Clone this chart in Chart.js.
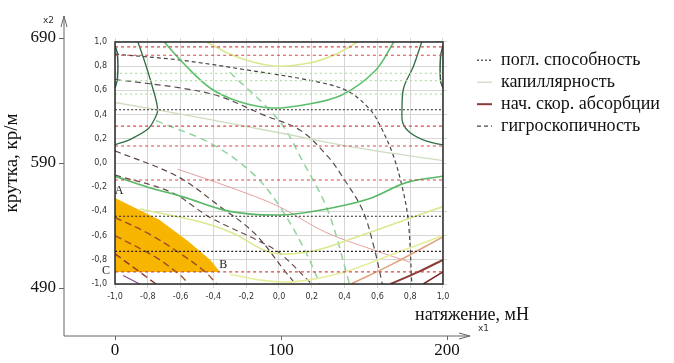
<!DOCTYPE html>
<html>
<head>
<meta charset="utf-8">
<style>
  html, body { margin: 0; padding: 0; background: #fff; }
  #wrap { width: 674px; height: 363px; }
</style>
</head>
<body>
<div id="wrap"><canvas id="chart" width="674" height="363"></canvas></div>
<script src="https://cdn.jsdelivr.net/npm/chart.js"></script>
<script>
// coded factor axes (-1..1)
const codedTicks = [-1, -0.8, -0.6, -0.4, -0.2, 0, 0.2, 0.4, 0.6, 0.8, 1];
const xSpan = [-1, 1];
// natural units
const tensionTicks = [0, 100, 200];
const twistTicks = [490, 590, 690];

// погл. способность: horizontal dotted levels
const absorbDark = [0.44, -0.44, -0.73];
const absorbRed = [0.96, 0.89, 0.305, 0.14, -0.14, -0.9];
const absorbLight = [0.74, 0.68, 0.57];

// капиллярность
const capPale = [[-1, 0.5], [-0.5, 0.38], [0, 0.25], [0.5, 0.12], [1, 0.02]];
const capLeft = [[-0.86, 1], [-0.81, 0.8], [-0.77, 0.62], [-0.74, 0.44], [-0.76, 0.36], [-0.8, 0.28], [-0.9, 0.2], [-1, 0.15]];
const capRight = [[0.87, 1], [0.82, 0.8], [0.76, 0.62], [0.75, 0.44], [0.755, 0.33], [0.8, 0.25], [0.9, 0.18], [1, 0.15]];
const capLeftEdge = [[-1, 0.97], [-0.985, 0.9], [-0.985, 0.7], [-1, 0.62]];
const capRightEdge = [[1, 0.97], [0.985, 0.88], [0.985, 0.68], [1, 0.62]];
const capTopU = [[-0.7, 1], [-0.58, 0.82], [-0.42, 0.62], [-0.25, 0.51], [-0.05, 0.455], [0.15, 0.48], [0.38, 0.56], [0.585, 0.76], [0.7, 1]];
const capLowU = [[-1, -0.11], [-0.8, -0.2], [-0.585, -0.28], [-0.3, -0.4], [0, -0.43], [0.25, -0.39], [0.54, -0.3], [0.78, -0.16], [1, -0.11]];
const capYellowTop = [[-0.44, 1], [-0.3, 0.9], [-0.15, 0.83], [0, 0.8], [0.2, 0.83], [0.35, 0.9], [0.48, 1]];
const capYellowMid = [[-0.85, -0.38], [-0.5, -0.48], [-0.28, -0.58], [-0.05, -0.74], [0.2, -0.73], [0.5, -0.6], [0.75, -0.48], [1, -0.36]];
const capYellowLow = [[-0.3, -0.92], [-0.1, -0.97], [0.1, -0.98], [0.4, -0.9], [0.7, -0.75], [1, -0.6]];

// нач. скор. абсорбции
const rateBrown = [[0.68, -1], [0.85, -0.9], [1, -0.8]];
const rateOrange = [[0.44, -1], [0.7, -0.83], [1, -0.61]];
const rateDark = [[0.88, -1], [1, -0.9]];
const ratePink = [[-0.62, -0.05], [-0.3, -0.2], [0, -0.36], [0.28, -0.57], [0.58, -0.72], [0.8, -0.82]];
const rateIn1 = [[-1, -0.45], [-0.8, -0.58], [-0.6, -0.75], [-0.45, -0.9], [-0.38, -1]];
const rateIn2 = [[-1, -0.6], [-0.75, -0.78], [-0.6, -0.93], [-0.55, -1]];
const rateIn3 = [[-1, -0.75], [-0.85, -0.9], [-0.75, -1]];
const ratePurple = [[-0.95, -0.93], [-0.85, -1]];

// гигроскопичность
const hygro1 = [[-1, 0.9], [-0.6, 0.85], [-0.2, 0.77], [0.2, 0.68], [0.41, 0.6], [0.55, 0.45], [0.62, 0.3], [0.7, 0.05], [0.76, -0.25], [0.79, -0.5], [0.81, -1]];
const hygro2 = [[-1, 0.69], [-0.6, 0.62], [-0.36, 0.55], [-0.1, 0.4], [0.13, 0.27], [0.3, 0.05], [0.39, -0.12], [0.51, -0.39], [0.58, -0.7], [0.63, -1]];
const hygro3 = [[-1, 0.1], [-0.62, -0.11], [-0.36, -0.36], [-0.15, -0.58], [0.04, -0.9], [0.1, -1]];
const hygro4 = [[-1, -0.1], [-0.66, -0.24], [-0.42, -0.45], [-0.13, -0.64], [0, -0.74], [0.2, -1]];
const hygroGreen1 = [[-0.75, 0.35], [-0.4, 0.15], [-0.15, -0.1], [0, -0.35], [0.15, -0.7], [0.25, -1]];
const hygroGreen2 = [[-0.3, 0.75], [0, 0.35], [0.15, 0], [0.3, -0.4], [0.43, -1]];

// shaded region A-B-C
const regionABC = [[-1, -0.29], [-0.73, -0.47], [-0.56, -0.64], [-0.42, -0.8], [-0.36, -0.9], [-1, -0.9]];
const pointLabels = [['A', -0.975, -0.23], ['B', -0.34, -0.845], ['C', -1.055, -0.893]];

const clipInner = {left: 0, top: -4, right: -4, bottom: -4};
const datasets = [];
function curve(pts, style) {
  datasets.push(Object.assign({
    label: '', data: pts.map(([x, y]) => ({x, y})), pointRadius: 0, borderWidth: 1.2,
    tension: 0.35, fill: false, clip: clipInner, order: 0, inLegend: false
  }, style));
}

datasets.push({
  label: 'region', data: regionABC.map(([x, y]) => ({x, y})), pointRadius: 0, borderWidth: 0,
  backgroundColor: '#f7b500', fill: 'shape', tension: 0, order: 1, inLegend: false, clip: clipInner
});

absorbDark.forEach((v, i) => curve(xSpan.map(x => [x, v]), {
  label: i === 0 ? 'погл. способность' : '', inLegend: i === 0, borderColor: '#2e2424', borderWidth: 1.1, borderDash: [2, 2]
}));
absorbRed.forEach(v => curve(xSpan.map(x => [x, v]), {borderColor: '#d24a4a', borderWidth: 1.1, borderDash: [3, 3]}));
absorbLight.forEach(v => curve(xSpan.map(x => [x, v]), {borderColor: '#b4dfa8', borderWidth: 1.3, borderDash: [2, 3]}));

curve(capPale, {label: 'капиллярность', inLegend: true, borderColor: '#cfdcc0', borderWidth: 1.3});
curve(capLeft, {borderColor: '#2f6e45', borderWidth: 1.3});
curve(capRight, {borderColor: '#2f6e45', borderWidth: 1.3});
curve(capLeftEdge, {borderColor: '#2f5f40', borderWidth: 1.5});
curve(capRightEdge, {borderColor: '#2f5f40', borderWidth: 1.5});
curve(capTopU, {borderColor: '#5dbf6c', borderWidth: 1.6});
curve(capLowU, {borderColor: '#58b866', borderWidth: 1.6});
curve(capYellowTop, {borderColor: '#dbe88e', borderWidth: 1.6});
curve(capYellowMid, {borderColor: '#dbe88e', borderWidth: 1.6});
curve(capYellowLow, {borderColor: '#e6ee9c', borderWidth: 1.6});

curve(rateBrown, {label: 'нач. скор. абсорбции', inLegend: true, borderColor: '#8a3b35', borderWidth: 2});
curve(rateOrange, {borderColor: '#e2a07a', borderWidth: 1.5});
curve(rateDark, {borderColor: '#7a2020', borderWidth: 1.5});
curve(ratePink, {borderColor: '#e6a0a0', borderWidth: 1});
curve(rateIn1, {borderColor: '#9a5228', borderWidth: 1.4, borderDash: [7, 4]});
curve(rateIn2, {borderColor: '#9a5228', borderWidth: 1.4, borderDash: [7, 4]});
curve(rateIn3, {borderColor: '#8a3a2a', borderWidth: 1.4, borderDash: [7, 4]});
curve(ratePurple, {borderColor: '#8a4a9a', borderWidth: 1.2});

curve(hygro1, {label: 'гигроскопичность', inLegend: true, borderColor: '#4a4444', borderWidth: 1.2, borderDash: [4, 3]});
curve(hygro2, {borderColor: '#5a4a4a', borderWidth: 1.2, borderDash: [6, 4]});
curve(hygro3, {borderColor: '#5a4444', borderWidth: 1.2, borderDash: [6, 4]});
curve(hygro4, {borderColor: '#6a4a4a', borderWidth: 1.2, borderDash: [6, 4]});
curve(hygroGreen1, {borderColor: '#8fd49c', borderWidth: 1.5, borderDash: [7, 5]});
curve(hygroGreen2, {borderColor: '#8fd49c', borderWidth: 1.5, borderDash: [7, 5]});

const fmt = v => (Math.abs(v) < 1e-9 ? 0 : v).toFixed(1).replace('.', ',');
const serif = '"Liberation Serif", "Times New Roman", serif';

const decor = {
  id: 'decor',
  afterDraw(chart) {
    const {ctx, scales: {x, y, xo, yo}} = chart;
    const l = x.getPixelForValue(-1), r = x.getPixelForValue(1);
    const t = y.getPixelForValue(1), b = y.getPixelForValue(-1);
    ctx.save();
    ctx.strokeStyle = '#2a2a2a';
    ctx.lineWidth = 1.5;
    ctx.strokeRect(l, t, r - l, b - t);

    // outer axes with arrows
    const ax = yo.right, ay = xo.top, ex = xo.right + 23;
    ctx.strokeStyle = '#666';
    ctx.lineWidth = 1;
    ctx.beginPath();
    ctx.moveTo(ax, ay); ctx.lineTo(ax, 16);
    ctx.moveTo(ax - 3, 27); ctx.lineTo(ax, 16); ctx.lineTo(ax + 3, 27);
    ctx.moveTo(ax, ay); ctx.lineTo(ex, ay);
    ctx.moveTo(ex - 11, ay - 3); ctx.lineTo(ex, ay); ctx.lineTo(ex - 11, ay + 3);
    ctx.stroke();

    ctx.fillStyle = '#111';
    ctx.font = '18px ' + serif;
    ctx.textBaseline = 'middle';
    ctx.textAlign = 'left';
    ctx.fillText('натяжение, мН', 415, 315);
    ctx.font = '9px "DejaVu Sans", sans-serif';
    ctx.fillStyle = '#333';
    ctx.fillText('x1', 478, 329);
    ctx.textAlign = 'right';
    ctx.fillText('x2', 54, 21);

    ctx.font = '12px ' + serif;
    ctx.fillStyle = '#222';
    ctx.textAlign = 'center';
    pointLabels.forEach(([txt, vx, vy]) => ctx.fillText(txt, x.getPixelForValue(vx), y.getPixelForValue(vy)));
    ctx.restore();
  }
};

new Chart(document.getElementById('chart'), {
  type: 'line',
  data: {datasets},
  plugins: [decor],
  options: {
    responsive: false,
    animation: false,
    layout: {padding: {left: 0, top: 38, right: 11, bottom: 0}},
    plugins: {
      tooltip: {enabled: false},
      legend: {
        position: 'right',
        align: 'start',
        fullSize: false,
        maxWidth: 190,
        title: {display: true, text: '', font: {size: 1}, padding: {top: 8, bottom: 0}},
        labels: {
          usePointStyle: true,
          pointStyle: 'line',
          pointStyleWidth: 15,
          padding: 4,
          color: '#111',
          font: {family: serif, size: 18},
          generateLabels: chart => Chart.defaults.plugins.legend.labels.generateLabels(chart)
            .map(item => Object.assign(item, {lineDash: chart.data.datasets[item.datasetIndex].borderDash || []})),
          filter: (item, data) => data.datasets[item.datasetIndex].inLegend
        }
      }
    },
    scales: {
      x: {
        type: 'linear', position: 'bottom', weight: 0, min: -1, max: 1.0244,
        afterBuildTicks: s => { s.ticks = codedTicks.map(value => ({value})); },
        afterFit: s => { s.height = 48; },
        grid: {color: '#d6d6d6', drawTicks: false},
        border: {display: false},
        ticks: {autoSkip: false, maxRotation: 0, padding: 4, color: '#333', font: {family: '"DejaVu Sans", sans-serif', size: 8}, callback: fmt}
      },
      y: {
        type: 'linear', position: 'left', weight: 0, min: -1.033, max: 1.033,
        afterBuildTicks: s => { s.ticks = codedTicks.map(value => ({value})); },
        afterFit: s => { s.width = 51; },
        grid: {color: '#d6d6d6', drawTicks: false},
        border: {display: false},
        ticks: {autoSkip: false, padding: 8, color: '#333', font: {family: '"DejaVu Sans", sans-serif', size: 8}, callback: fmt}
      },
      xo: {
        type: 'linear', position: 'bottom', weight: 1, min: 0, max: 200,
        afterBuildTicks: s => { s.ticks = tensionTicks.map(value => ({value})); },
        afterFit: s => { s.height = 27; },
        grid: {drawOnChartArea: false, tickLength: 4, color: '#666'},
        border: {display: false},
        ticks: {padding: 0, color: '#111', font: {family: serif, size: 17}}
      },
      yo: {
        type: 'linear', position: 'left', weight: 1, min: 490, max: 690,
        afterBuildTicks: s => { s.ticks = twistTicks.map(value => ({value})); },
        afterFit: s => { s.width = 64; },
        grid: {drawOnChartArea: false, tickLength: 5, color: '#666'},
        border: {display: false},
        ticks: {padding: 3, color: '#111', font: {family: serif, size: 17}},
        title: {display: true, text: 'крутка, кр/м', color: '#111', font: {family: serif, size: 19}, padding: {top: 1, bottom: 0}}
      },
      yr: {
        type: 'linear', position: 'right',
        afterFit: s => { s.width = 26; },
        grid: {display: false},
        border: {display: false},
        ticks: {display: false}
      }
    }
  }
});
</script>
</body>
</html>
